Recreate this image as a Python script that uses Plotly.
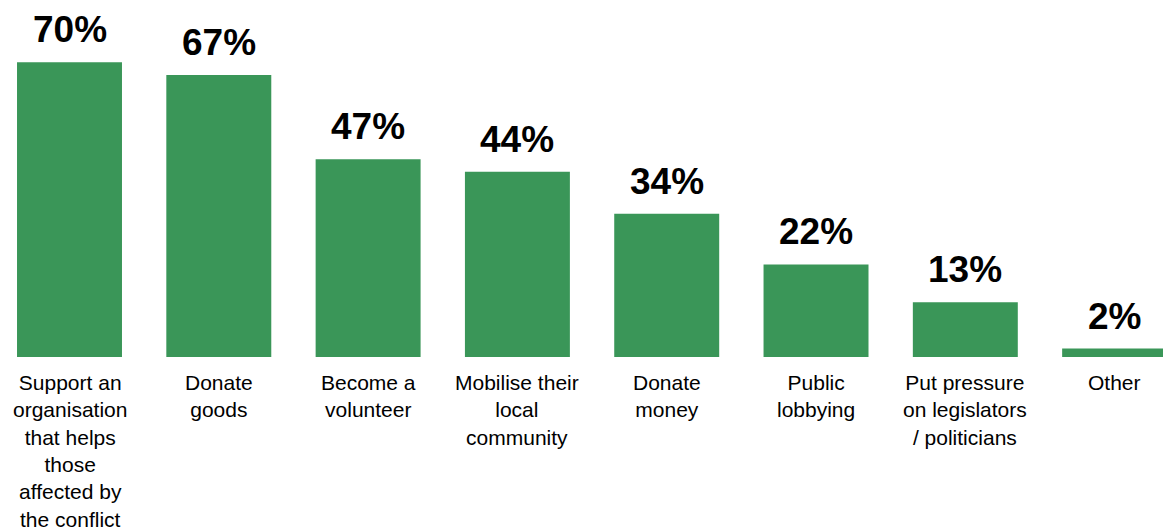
import plotly.graph_objects as go

# Share of respondents choosing each type of action
categories = [
    "Support an<br>organisation<br>that helps<br>those<br>affected by<br>the conflict",
    "Donate<br>goods",
    "Become a<br>volunteer",
    "Mobilise their<br>local<br>community",
    "Donate<br>money",
    "Public<br>lobbying",
    "Put pressure<br>on legislators<br>/ politicians",
    "Other",
]
values = [70, 67, 47, 44, 34, 22, 13, 2]
value_labels = [f"{v}%" for v in values]

FONT = "Arial, Liberation Sans, sans-serif"
GREEN = "#3A9658"

x = list(range(len(values)))

fig = go.Figure(
    go.Bar(
        x=x,
        y=values,
        marker=dict(color=GREEN, line=dict(width=0)),
        width=0.703,
        hoverinfo="skip",
    )
)

annotations = []
for i, (v, lab) in enumerate(zip(values, value_labels)):
    annotations.append(dict(
        x=i, y=v, xref="x", yref="y", text=f"<b>{lab}</b>",
        showarrow=False, yanchor="bottom", yshift=10,
        font=dict(family=FONT, size=37, color="#000000"),
    ))
for i, cat in enumerate(categories):
    annotations.append(dict(
        x=i, y=0, xref="x", yref="y", text=cat,
        showarrow=False, yanchor="top", yshift=-12,
        align="center",
        font=dict(family=FONT, size=21, color="#000000"),
    ))

fig.update_layout(
    width=1163,
    height=532,
    margin=dict(l=0, r=0, t=0, b=175),
    paper_bgcolor="white",
    plot_bgcolor="white",
    showlegend=False,
    xaxis=dict(
        range=[-0.4655, 7.324],
        showticklabels=False,
        showgrid=False,
        zeroline=False,
        showline=False,
        ticks="",
    ),
    yaxis=dict(
        range=[0, 84.8],
        visible=False,
        showgrid=False,
        zeroline=False,
    ),
    annotations=annotations,
)

fig.write_html("out.html")
